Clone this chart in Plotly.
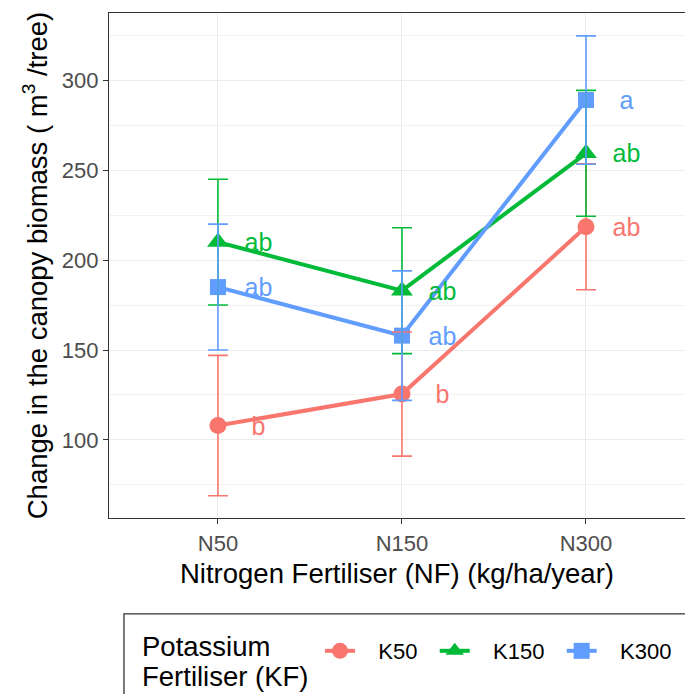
import plotly.graph_objects as go

# Nitrogen fertiliser levels (x categories)
nf_levels = ["N50", "N150", "N300"]

# Potassium fertiliser groups
kf_groups = ["K50", "K150", "K300"]

# Mean change in canopy biomass (m3/tree) and standard errors
k50_mean = [108, 125.5, 218.5]
k50_se = [39, 34.5, 35]
k150_mean = [210, 183, 259.4]
k150_se = [35, 35, 35]
k300_mean = [185, 158, 289]
k300_se = [35, 36, 35.7]

# Compact letter display labels
k50_letters = ["b", "b", "ab"]
k150_letters = ["ab", "ab", "ab"]
k300_letters = ["ab", "ab", "a"]

# Legend title, one entry per line
legend_title_lines = ["Potassium", "Fertiliser (KF)"]

colors = ["#F8766D", "#00BA38", "#619CFF"]
symbols = ["circle", "triangle-up", "square"]
marker_sizes = [17, 19, 16]

means = [k50_mean, k150_mean, k300_mean]
ses = [k50_se, k150_se, k300_se]
letters = [k50_letters, k150_letters, k300_letters]

FONT = "Liberation Sans, Arial, sans-serif"
NBSP = "\u00a0"
TITLE_SIZE = 27.5
TICK_SIZE = 22
xpos = list(range(len(nf_levels)))

fig = go.Figure()

# lines and points (legend labels padded to widen the key spacing)
for name, m, col, sym, ms in zip(kf_groups, means, colors, symbols, marker_sizes):
    fig.add_trace(go.Scatter(
        x=xpos, y=m, name=NBSP * 3 + name + NBSP * 2, mode="lines+markers",
        line=dict(color=col, width=4),
        marker=dict(color=col, symbol=sym, size=ms),
    ))

# error bars drawn on top of the points
for name, m, s, col in zip(kf_groups, means, ses, colors):
    fig.add_trace(go.Scatter(
        x=xpos, y=m, mode="markers", showlegend=False, hoverinfo="skip",
        marker=dict(color="rgba(0,0,0,0)", size=1),
        error_y=dict(type="data", array=s, visible=True, color=col,
                     thickness=1.6, width=10),
    ))

# letter labels beside each point
for m, lab, col in zip(means, letters, colors):
    fig.add_trace(go.Scatter(
        x=[p + 0.22 for p in xpos], y=[v - 1.6 for v in m], mode="text",
        text=lab, textposition="middle center", showlegend=False,
        hoverinfo="skip",
        textfont=dict(color=col, size=25, family=FONT),
    ))

# legend frame, running off the right/bottom edge
fig.add_shape(type="rect", xref="paper", yref="paper",
              x0=0.026, x1=1.2, y0=-0.190, y1=-0.5,
              line=dict(color="#333333", width=1.3), fillcolor="white",
              layer="below")

# legend title, set line by line for a tight line height
for i, line in enumerate(legend_title_lines):
    fig.add_annotation(
        text=line, xref="paper", yref="paper",
        x=0.0538, y=-0.2535 - 0.0594 * i, xanchor="left", yanchor="middle",
        showarrow=False, font=dict(size=TITLE_SIZE, color="black", family=FONT),
    )

fig.update_layout(
    width=685, height=694,
    margin=dict(l=109, r=0, t=13, b=176),
    paper_bgcolor="white", plot_bgcolor="white",
    font=dict(family=FONT, color="black"),
    showlegend=True,
    legend=dict(
        orientation="h", xref="container", yref="container",
        x=320 / 685, xanchor="left", y=1 - 651 / 694, yanchor="middle",
        bgcolor="rgba(0,0,0,0)", borderwidth=0,
        font=dict(size=22, color="black", family=FONT),
        itemsizing="trace",
    ),
    xaxis=dict(
        range=[-0.592, 2.538], tickvals=xpos, ticktext=nf_levels,
        showgrid=True, gridcolor="#EBEBEB", gridwidth=1.3,
        showline=True, mirror=True, linecolor="#333333", linewidth=1.3,
        ticks="outside", ticklen=5, tickwidth=1.3, tickcolor="#333333",
        tickfont=dict(size=TICK_SIZE, color="#4D4D4D", family=FONT),
        zeroline=False,
        title=dict(text="Nitrogen Fertiliser (NF) (kg/ha/year)",
                   font=dict(size=TITLE_SIZE, color="black", family=FONT),
                   standoff=9),
    ),
    yaxis=dict(
        range=[56.6, 337.4], tickvals=[100, 150, 200, 250, 300],
        showgrid=True, gridcolor="#EBEBEB", gridwidth=1.3,
        minor=dict(tickvals=[75, 125, 175, 225, 275, 325], showgrid=True,
                   gridcolor="#F2F2F2", gridwidth=0.8),
        showline=True, mirror=False, linecolor="#333333", linewidth=1.3,
        ticks="outside", ticklen=5, tickwidth=1.3, tickcolor="#333333",
        tickfont=dict(size=TICK_SIZE, color="#4D4D4D", family=FONT),
        zeroline=False,
        title=dict(text="Change in the canopy biomass ( m<sup>3</sup> /tree)",
                   font=dict(size=TITLE_SIZE, color="black", family=FONT),
                   standoff=6),
    ),
)

fig.write_html("out.html")
